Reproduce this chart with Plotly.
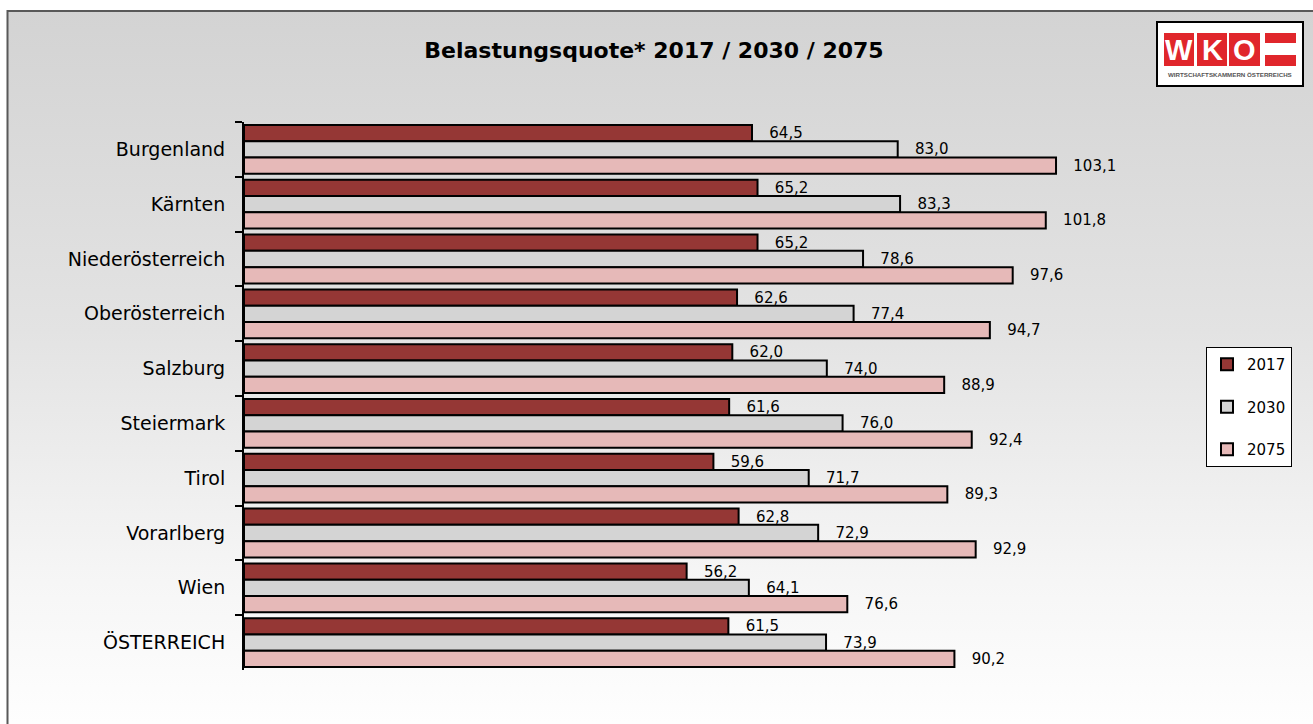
import base64
import plotly.graph_objects as go

# ---- data ----
regions = ["Burgenland", "Kärnten", "Niederösterreich", "Oberösterreich", "Salzburg",
           "Steiermark", "Tirol", "Vorarlberg", "Wien", "ÖSTERREICH"]
years = ["2017", "2030", "2075"]
v2017 = [64.5, 65.2, 65.2, 62.6, 62.0, 61.6, 59.6, 62.8, 56.2, 61.5]
v2030 = [83.0, 83.3, 78.6, 77.4, 74.0, 76.0, 71.7, 72.9, 64.1, 73.9]
v2075 = [103.1, 101.8, 97.6, 94.7, 88.9, 92.4, 89.3, 92.9, 76.6, 90.2]
title_text = "Belastungsquote* 2017 / 2030 / 2075"

series = [v2017, v2030, v2075]
colors = ["#953735", "#D4D4D4", "#E6B9B8"]

W, H = 1313, 724
ML, MT = 244, 122
PW, PH = 900, 548
MR = W - ML - PW
MB = H - MT - PH
PX_PER_UNIT = 7.876
XMAX = PW / PX_PER_UNIT


def px(x):
    return (x - ML) / PW


def py(y):
    return 1 - (y - MT) / PH


FONT = "DejaVu Sans"

fig = go.Figure()
for name, vals, col in zip(years, series, colors):
    fig.add_trace(go.Bar(
        name=name, y=regions, x=vals, orientation="h",
        marker=dict(color=col, line=dict(color="#000000", width=2)),
        text=["\u00a0\u00a0\u00a0" + f"{v:.1f}".replace(".", ",") for v in vals],
        textposition="outside", constraintext="none", cliponaxis=False,
        textfont=dict(family=FONT, size=15, color="#000000"),
        legendgroup=name,
    ))

# gradient background as svg image
svg = ('<svg xmlns="http://www.w3.org/2000/svg" width="100" height="100" preserveAspectRatio="none">'
       '<defs><linearGradient id="g" x1="0" y1="0" x2="0" y2="1">'
       '<stop offset="0" stop-color="#d3d3d3"/>'
       '<stop offset="0.45" stop-color="#e3e3e3"/>'
       '<stop offset="0.8" stop-color="#f6f6f6"/>'
       '<stop offset="1" stop-color="#fefefe"/>'
       '</linearGradient></defs>'
       '<rect width="100" height="100" fill="url(#g)"/></svg>')
src = "data:image/svg+xml;base64," + base64.b64encode(svg.encode()).decode()

images = [dict(source=src, xref="paper", yref="paper", x=px(7), y=py(10),
               sizex=px(W) - px(7), sizey=py(10) - py(H), xanchor="left", yanchor="top",
               sizing="stretch", layer="below")]

shapes = [
    # frame lines
    dict(type="line", xref="paper", yref="paper", x0=px(7), x1=px(W), y0=py(11), y1=py(11),
         line=dict(color="#595959", width=2)),
    dict(type="line", xref="paper", yref="paper", x0=px(7.5), x1=px(7.5), y0=py(10), y1=py(H),
         line=dict(color="#595959", width=2)),
    # logo box
    dict(type="rect", xref="paper", yref="paper", x0=px(1157), x1=px(1303), y0=py(22), y1=py(86),
         fillcolor="#ffffff", line=dict(color="#000000", width=2)),
]
red = "#E0262B"
for (x0, x1, y0, y1) in [(1164, 1194, 33, 66), (1197, 1227, 33, 66), (1229, 1260, 33, 66),
                         (1265, 1296, 33, 43), (1265, 1296, 55, 66)]:
    shapes.append(dict(type="rect", xref="paper", yref="paper", x0=px(x0), x1=px(x1),
                       y0=py(y0), y1=py(y1), fillcolor=red, line=dict(width=0)))

annotations = []
for letter, cx in [("W", 1179), ("K", 1212), ("O", 1244.5)]:
    annotations.append(dict(text=f"<b>{letter}</b>", xref="paper", yref="paper", x=px(cx), y=py(50),
                            xanchor="center", yanchor="middle", showarrow=False,
                            font=dict(family="Liberation Sans", size=29, color="#ffffff")))
annotations.append(dict(text="<b>WIRTSCHAFTSKAMMERN ÖSTERREICHS</b>", xref="paper", yref="paper",
                        x=px(1230), y=py(74), xanchor="center", yanchor="middle", showarrow=False,
                        font=dict(family="Liberation Sans", size=6.2, color="#555555")))

fig.update_layout(
    width=W, height=H,
    margin=dict(l=ML, r=MR, t=MT, b=MB, autoexpand=False),
    paper_bgcolor="#ffffff", plot_bgcolor="rgba(0,0,0,0)",
    barmode="group", bargap=0.11, bargroupgap=0,
    title=dict(text=f"<b>{title_text}</b>", xref="container", yref="container",
               x=654 / W, y=1 - 50 / H, xanchor="center", yanchor="middle",
               font=dict(family=FONT, size=22, color="#000000")),
    xaxis=dict(range=[0, XMAX], visible=False, fixedrange=True),
    yaxis=dict(range=[9.5, -0.5], type="category", showline=True, linecolor="#000000", linewidth=2,
               ticks="outside", tickson="boundaries", ticklen=7, tickwidth=1.5, tickcolor="#000000",
               showgrid=False, zeroline=False, ticklabelstandoff=13,
               tickfont=dict(family=FONT, size=19, color="#000000")),
    legend=dict(x=px(1206), y=py(347), xanchor="left", yanchor="top",
                bgcolor="#ffffff", bordercolor="#000000", borderwidth=1,
                traceorder="grouped", tracegroupgap=20, itemwidth=30,
                font=dict(family=FONT, size=15, color="#000000")),
    images=images, shapes=shapes, annotations=annotations,
    showlegend=True,
)

fig.write_html("out.html", config={"displayModeBar": False},
               post_script="document.body.style.margin='0';document.body.style.overflow='hidden';")
